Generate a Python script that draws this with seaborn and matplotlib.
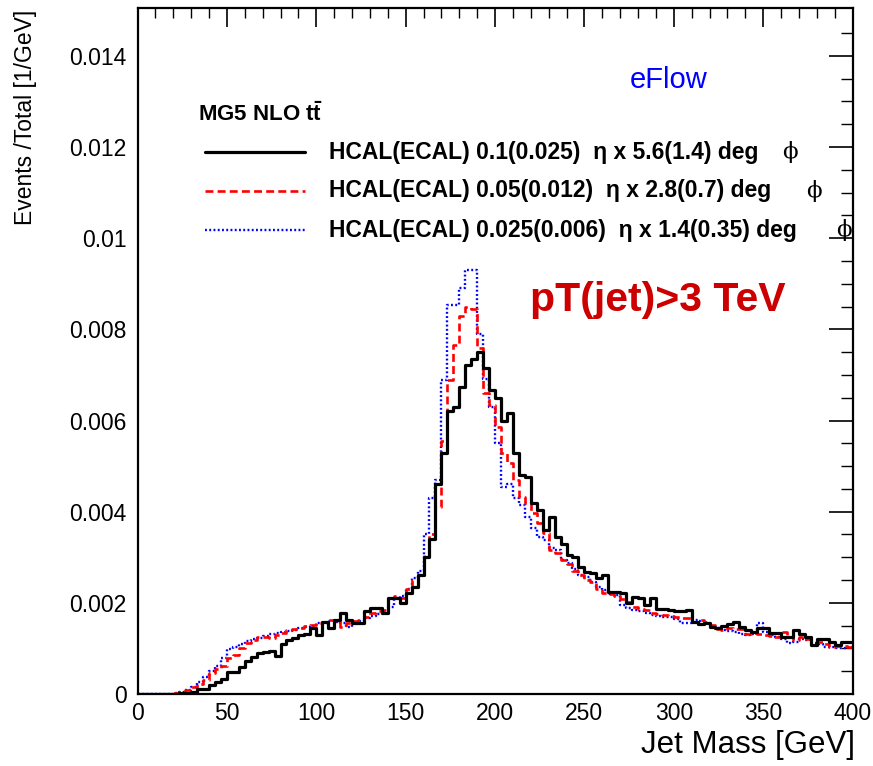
import numpy as np
import pandas as pd
import matplotlib
matplotlib.use("Agg")
import matplotlib.pyplot as plt
from matplotlib import font_manager
import seaborn as sns

# ---------------- data (values in units of 1e-3 per GeV) ----------------
n_bins = 120
mass_range = (0, 400)

black_vals = [
    0.0, 0.0, 0.0, 0.0, 0.0, 0.0, 0.01, 0.02, 0.03, 0.05,
    0.10, 0.10, 0.20, 0.26, 0.33, 0.48, 0.48, 0.60, 0.72, 0.82,
    0.91, 0.92, 0.95, 0.84, 1.10, 1.18, 1.23, 1.30, 1.31, 1.44,
    1.29, 1.59, 1.44, 1.62, 1.77, 1.62, 1.55, 1.55, 1.81, 1.88,
    1.88, 1.77, 2.10, 2.10, 1.99, 2.21, 2.35, 2.60, 3.00, 3.40,
    4.60, 5.28, 6.20, 6.30, 6.74, 7.22, 7.35, 7.50, 7.15, 6.67,
    6.49, 6.00, 6.16, 5.28, 4.80, 4.77, 4.18, 4.04, 3.60, 3.89,
    3.45, 3.30, 3.05, 3.00, 2.79, 2.68, 2.65, 2.55, 2.61, 2.24,
    2.24, 2.21, 1.99, 2.12, 2.10, 1.95, 2.10, 1.86, 1.86, 1.85,
    1.81, 1.83, 1.84, 1.59, 1.54, 1.55, 1.46, 1.45, 1.50, 1.54,
    1.59, 1.48, 1.40, 1.37, 1.45, 1.45, 1.33, 1.33, 1.26, 1.24,
    1.40, 1.31, 1.24, 1.08, 1.20, 1.20, 1.15, 1.08, 1.15, 1.15,
]

red_vals = [
    0.0, 0.0, 0.0, 0.0, 0.0, 0.0, 0.02, 0.04, 0.08, 0.15,
    0.22, 0.30, 0.45, 0.55, 0.62, 0.80, 0.85, 1.00, 1.12, 1.18,
    1.25, 1.26, 1.22, 1.30, 1.33, 1.40, 1.42, 1.45, 1.50, 1.52,
    1.55, 1.58, 1.63, 1.60, 1.48, 1.55, 1.60, 1.62, 1.70, 1.77,
    1.81, 1.84, 2.10, 2.14, 2.10, 2.30, 2.50, 2.60, 3.05, 3.50,
    4.11, 5.54, 6.89, 7.66, 8.30, 8.50, 8.45, 7.59, 6.60, 6.34,
    5.86, 5.28, 5.06, 4.70, 4.33, 4.18, 3.96, 3.75, 3.53, 3.15,
    3.10, 2.95, 2.85, 2.70, 2.62, 2.50, 2.45, 2.30, 2.22, 2.19,
    2.15, 2.09, 2.02, 1.90, 1.86, 1.85, 1.78, 1.76, 1.74, 1.72,
    1.70, 1.66, 1.66, 1.59, 1.62, 1.58, 1.51, 1.42, 1.40, 1.45,
    1.43, 1.42, 1.31, 1.33, 1.32, 1.30, 1.28, 1.26, 1.36, 1.24,
    1.18, 1.24, 1.20, 1.16, 1.15, 1.10, 1.04, 1.06, 1.05, 1.04,
]

blue_vals = [
    0.0, 0.0, 0.0, 0.0, 0.0, 0.0, 0.02, 0.05, 0.09, 0.15,
    0.26, 0.38, 0.50, 0.62, 0.80, 0.98, 1.03, 1.10, 1.17, 1.20,
    1.22, 1.28, 1.32, 1.33, 1.35, 1.38, 1.40, 1.45, 1.48, 1.50,
    1.55, 1.56, 1.60, 1.58, 1.55, 1.48, 1.55, 1.60, 1.66, 1.72,
    1.76, 1.82, 1.90, 2.10, 2.15, 2.30, 2.55, 2.70, 3.50, 4.30,
    4.70, 6.89, 8.53, 8.53, 8.90, 9.30, 9.30, 7.90, 6.90, 6.30,
    5.50, 4.55, 4.60, 4.30, 4.15, 3.89, 3.65, 3.45, 3.38, 3.20,
    3.16, 2.95, 2.88, 2.74, 2.60, 2.56, 2.45, 2.35, 2.28, 2.19,
    2.17, 1.95, 1.88, 1.85, 1.82, 1.77, 1.74, 1.72, 1.70, 1.68,
    1.65, 1.55, 1.55, 1.62, 1.60, 1.55, 1.48, 1.45, 1.40, 1.38,
    1.36, 1.31, 1.30, 1.32, 1.55, 1.35, 1.30, 1.24, 1.20, 1.12,
    1.15, 1.20, 1.18, 1.12, 1.10, 1.04, 1.04, 1.01, 1.02, 1.04,
]

series_labels = [
    "HCAL(ECAL) 0.1(0.025)  η x 5.6(1.4) deg",
    "HCAL(ECAL) 0.05(0.012)  η x 2.8(0.7) deg",
    "HCAL(ECAL) 0.025(0.006)  η x 1.4(0.35) deg",
]
legend_title = r"MG5 NLO t$\mathbf{\bar{t}}$"
x_ticks = [0, 50, 100, 150, 200, 250, 300, 350, 400]
y_ticks = [0, 0.002, 0.004, 0.006, 0.008, 0.010, 0.012, 0.014]
y_tick_labels = ["0", "0.002", "0.004", "0.006", "0.008", "0.01", "0.012", "0.014"]

# ---------------- style ----------------
sns.set_style("white")
plt.rcParams["font.family"] = ["Liberation Sans", "DejaVu Sans"]
plt.rcParams["mathtext.fontset"] = "custom"
plt.rcParams["mathtext.rm"] = "Liberation Sans"
plt.rcParams["mathtext.bf"] = "Liberation Sans:bold"
for k in ["text.color", "axes.labelcolor", "xtick.color", "ytick.color", "axes.edgecolor"]:
    plt.rcParams[k] = "black"

installed = {f.name for f in font_manager.fontManager.ttflist}
if "Liberation Sans Narrow" in installed:
    ylab_family, ylab_size = ["Liberation Sans Narrow", "Liberation Sans"], 19.5
else:
    ylab_family, ylab_size = ["Liberation Sans", "DejaVu Sans"], 16.5

W, H = 873, 766
fig = plt.figure(figsize=(W / 100, H / 100), dpi=100)
ax = fig.add_axes([137.5 / W, 1 - 694 / H, (852.5 - 137.5) / W, (694 - 8) / H])

width = (mass_range[1] - mass_range[0]) / n_bins
centers = mass_range[0] + width * (np.arange(n_bins) + 0.5)
df = pd.DataFrame({
    "mass": np.concatenate([centers] * 3),
    "w": np.concatenate([np.array(black_vals), np.array(red_vals), np.array(blue_vals)]) * 1e-3,
    "series": np.repeat(series_labels, n_bins),
})

styles = [
    dict(color="black", linewidth=2.3, linestyle="-"),
    dict(color="#ff0000", linewidth=1.9, linestyle=(0, (3, 1.6))),
    dict(color="#0000ff", linewidth=1.7, linestyle=(0, (0.8, 1.0))),
]
for idx in [2, 1, 0]:
    sub = df[df["series"] == series_labels[idx]].reset_index(drop=True)
    sns.histplot(data=sub, x="mass", weights="w", bins=n_bins, binrange=mass_range,
                 element="step", fill=False, ax=ax, **styles[idx])

ax.set_xlim(0, 400)
ax.set_ylim(0, 0.01505)
ax.set_xticks(x_ticks)
ax.set_xticklabels([str(t) for t in x_ticks])
ax.set_yticks(y_ticks)
ax.set_yticklabels(y_tick_labels)
ax.set_xticks(np.arange(0, 401, 10), minor=True)
ax.set_yticks(np.arange(0, 0.0150, 0.0005), minor=True)
ax.tick_params(which="both", direction="in", top=True, right=True, colors="black")
ax.tick_params(which="major", axis="x", length=14, width=1.2, labelsize=16.5, pad=6)
ax.tick_params(which="minor", axis="x", length=7, width=1.0)
ax.tick_params(which="major", axis="y", length=17, width=1.2, labelsize=16.5, pad=8)
ax.tick_params(which="minor", axis="y", length=9, width=1.0)
for sp in ax.spines.values():
    sp.set_visible(True)
    sp.set_color("black")
    sp.set_linewidth(1.6)
ax.set_xlabel("")
ax.set_ylabel("")

def fx(px):
    return px / W

def fy(py):
    return 1 - py / H

fig.text(fx(855), fy(745), "Jet Mass [GeV]", ha="right", va="center", fontsize=22.5,
         color="black")
fig.text(fx(26), fy(10), "Events /Total [1/GeV]", ha="center", va="top",
         rotation=90, fontsize=ylab_size, family=ylab_family, color="black")

fig.text(fx(630), fy(80), "eFlow", color="#0000ff", ha="left", va="center", fontsize=21)
fig.text(fx(530), fy(300), "pT(jet)>3 TeV", color="#cc0000", ha="left", va="center",
         fontsize=29.5, fontweight="bold")

fig.text(fx(198), fy(114), legend_title, ha="left", va="center", fontsize=16,
         fontweight="bold", color="black")
entry_y = [152, 191, 230]
phi_x = [782, 806, 836]
for i in range(3):
    st = styles[i]
    line = plt.Line2D([fx(205), fx(305)], [fy(entry_y[i]), fy(entry_y[i])],
                      transform=fig.transFigure, color=st["color"],
                      linewidth=st["linewidth"], linestyle=st["linestyle"])
    fig.add_artist(line)
    fig.text(fx(329), fy(entry_y[i]), series_labels[i], ha="left", va="center",
             fontsize=16.5, fontweight="bold", color="black")
    fig.text(fx(phi_x[i]), fy(entry_y[i]), "ϕ", ha="left", va="center",
             fontsize=16.5, family=["DejaVu Serif", "DejaVu Sans"], color="black")

fig.savefig("out.png", dpi=100)
